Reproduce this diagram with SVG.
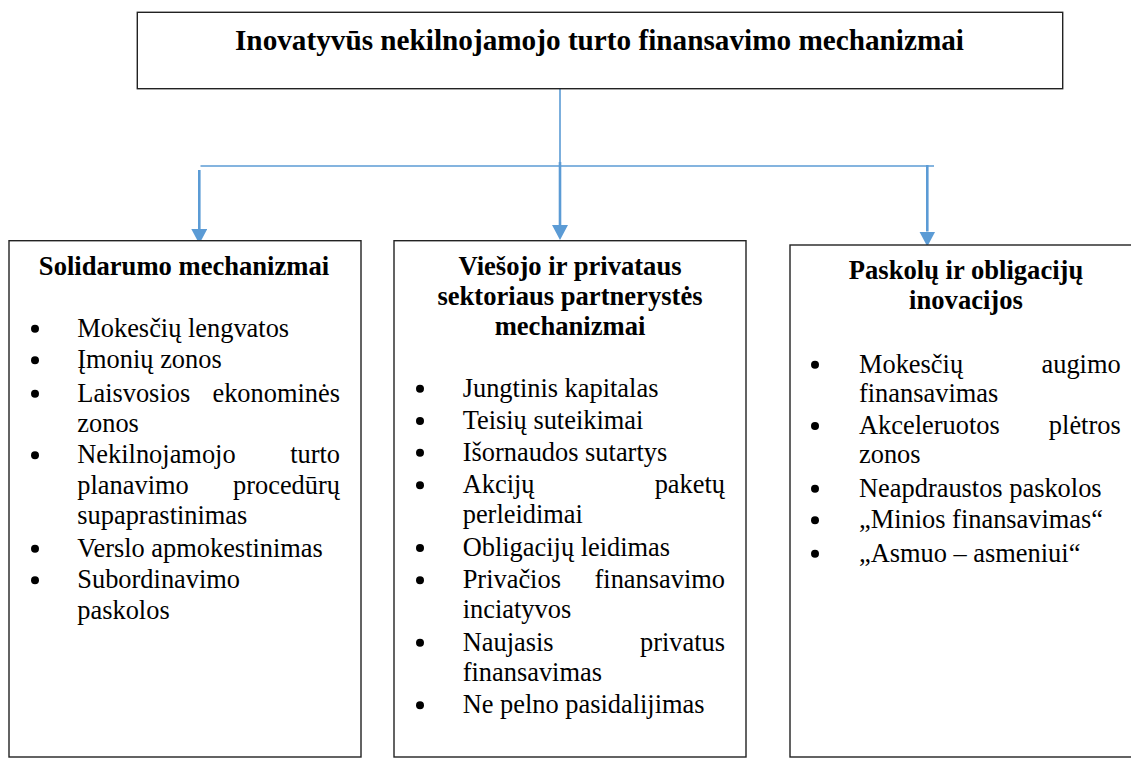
<svg xmlns="http://www.w3.org/2000/svg" width="1131" height="758" viewBox="0 0 1131 758">
<style>
.box{fill:#fff;stroke:#222;stroke-width:1.4}
.t{font-family:"Liberation Serif","Times New Roman",serif;fill:#000}
.h{font-weight:bold;font-size:26.6px;text-anchor:middle}
.b{font-size:26.4px}
.thin{stroke:#5b9bd5;stroke-width:1.6;fill:none}
.arr{stroke:#5b9bd5;stroke-width:2.6;fill:none;marker-end:url(#ah)}
.dot{fill:#000}
</style>
<defs>
<marker id="ah" viewBox="0 0 15 16" refX="0" refY="8" markerWidth="15" markerHeight="16" markerUnits="userSpaceOnUse" orient="auto">
<path d="M0,0 L15,8 L0,16 Z" fill="#5b9bd5"/>
</marker>
</defs>

<g id="connectors">
<line class="thin" x1="560" y1="89" x2="560" y2="166"/>
<line class="thin" x1="200.5" y1="166" x2="934" y2="166"/>
<line class="arr" x1="199.3" y1="170" x2="199.3" y2="229"/>
<line class="arr" x1="560" y1="162" x2="560" y2="225"/>
<line class="arr" x1="927.3" y1="165" x2="927.3" y2="231.5"/>
</g>

<g id="top">
<rect class="box" x="137.3" y="12.3" width="925.4" height="76.4"/>
<text class="t" x="599.5" y="50" font-size="29.3" font-weight="bold" text-anchor="middle" textLength="729" lengthAdjust="spacingAndGlyphs">Inovatyvūs nekilnojamojo turto finansavimo mechanizmai</text>
</g>

<g id="solidarumo">
<rect class="box" x="9" y="240.7" width="352" height="516.3"/>
<text class="t h" x="184" y="275">Solidarumo mechanizmai</text>
<circle class="dot" cx="35" cy="328.7" r="4"/>
<circle class="dot" cx="35" cy="360.3" r="4"/>
<circle class="dot" cx="35" cy="393.7" r="4"/>
<circle class="dot" cx="35" cy="455.3" r="4"/>
<circle class="dot" cx="35" cy="548.7" r="4"/>
<circle class="dot" cx="35" cy="580.3" r="4"/>
<text class="t b" x="77.3" y="336.7">Mokesčių lengvatos</text>
<text class="t b" x="77.3" y="368.3">Įmonių zonos</text>
<text class="t b" x="77.3" y="401.7">Laisvosios<tspan x="340" text-anchor="end">ekonominės</tspan></text>
<text class="t b" x="77.3" y="431.7">zonos</text>
<text class="t b" x="77.3" y="463.3">Nekilnojamojo<tspan x="340" text-anchor="end">turto</tspan></text>
<text class="t b" x="77.3" y="494.3">planavimo<tspan x="340" text-anchor="end">procedūrų</tspan></text>
<text class="t b" x="77.3" y="524.3">supaprastinimas</text>
<text class="t b" x="77.3" y="556.7">Verslo apmokestinimas</text>
<text class="t b" x="77.3" y="588.3">Subordinavimo</text>
<text class="t b" x="77.3" y="619.3">paskolos</text>
</g>

<g id="viesojo">
<rect class="box" x="394" y="240.7" width="352" height="516.3"/>
<text class="t h" x="570" y="275">Viešojo ir privataus</text>
<text class="t h" x="570" y="305">sektoriaus partnerystės</text>
<text class="t h" x="570" y="335">mechanizmai</text>
<circle class="dot" cx="420" cy="388.7" r="4"/>
<circle class="dot" cx="420" cy="421" r="4"/>
<circle class="dot" cx="420" cy="452.7" r="4"/>
<circle class="dot" cx="420" cy="485.3" r="4"/>
<circle class="dot" cx="420" cy="548" r="4"/>
<circle class="dot" cx="420" cy="580.3" r="4"/>
<circle class="dot" cx="420" cy="642.7" r="4"/>
<circle class="dot" cx="420" cy="705.3" r="4"/>
<text class="t b" x="462.7" y="396.7">Jungtinis kapitalas</text>
<text class="t b" x="462.7" y="429">Teisių suteikimai</text>
<text class="t b" x="462.7" y="460.7">Išornaudos sutartys</text>
<text class="t b" x="462.7" y="493.3">Akcijų<tspan x="725" text-anchor="end">paketų</tspan></text>
<text class="t b" x="462.7" y="523.3">perleidimai</text>
<text class="t b" x="462.7" y="556">Obligacijų leidimas</text>
<text class="t b" x="462.7" y="588.3">Privačios<tspan x="725" text-anchor="end">finansavimo</tspan></text>
<text class="t b" x="462.7" y="618.3">inciatyvos</text>
<text class="t b" x="462.7" y="650.7">Naujasis<tspan x="725" text-anchor="end">privatus</tspan></text>
<text class="t b" x="462.7" y="680.7">finansavimas</text>
<text class="t b" x="462.7" y="713.3">Ne pelno pasidalijimas</text>
</g>

<g id="paskolu">
<rect class="box" x="790" y="245" width="352" height="512"/>
<text class="t h" x="966" y="279.3">Paskolų ir obligacijų</text>
<text class="t h" x="966" y="309.3">inovacijos</text>
<circle class="dot" cx="815" cy="364.7" r="4"/>
<circle class="dot" cx="815" cy="426" r="4"/>
<circle class="dot" cx="815" cy="488.7" r="4"/>
<circle class="dot" cx="815" cy="520.3" r="4"/>
<circle class="dot" cx="815" cy="553.7" r="4"/>
<text class="t b" x="859" y="372.7">Mokesčių<tspan x="1120.7" text-anchor="end">augimo</tspan></text>
<text class="t b" x="859" y="401.7">finansavimas</text>
<text class="t b" x="859" y="434">Akceleruotos<tspan x="1120.7" text-anchor="end">plėtros</tspan></text>
<text class="t b" x="859" y="463.3">zonos</text>
<text class="t b" x="859" y="496.7">Neapdraustos paskolos</text>
<text class="t b" x="859" y="528.3">„Minios finansavimas“</text>
<text class="t b" x="859" y="561.7">„Asmuo – asmeniui“</text>
</g>
</svg>
